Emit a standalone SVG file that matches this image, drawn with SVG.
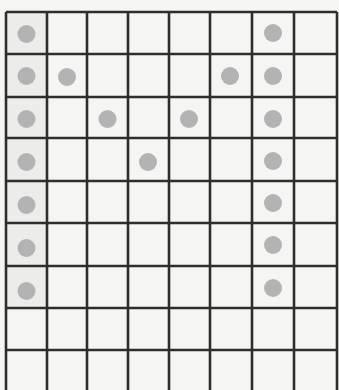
<svg xmlns="http://www.w3.org/2000/svg" width="339" height="390" viewBox="0 0 339 390">
  <style>
    .grid line { stroke: #2e2e2e; stroke-width: 2.6; }
    .dot { fill: #b3b3b3; }
  </style>
  <rect x="0" y="0" width="339" height="390" fill="#f5f5f3"/>
  <rect x="6" y="12" width="41" height="296" fill="#ececea"/>
  <g id="dots">
    <circle class="dot" cx="26.5" cy="34" r="9"/>
    <circle class="dot" cx="273" cy="33" r="9"/>
    <circle class="dot" cx="26.5" cy="76" r="9"/>
    <circle class="dot" cx="67" cy="77" r="9"/>
    <circle class="dot" cx="230" cy="76" r="9"/>
    <circle class="dot" cx="273" cy="76" r="9"/>
    <circle class="dot" cx="26.5" cy="119" r="9"/>
    <circle class="dot" cx="107.5" cy="119" r="9"/>
    <circle class="dot" cx="189" cy="119" r="9"/>
    <circle class="dot" cx="273" cy="119" r="9"/>
    <circle class="dot" cx="26.5" cy="162" r="9"/>
    <circle class="dot" cx="148" cy="162" r="9"/>
    <circle class="dot" cx="273" cy="161" r="9"/>
    <circle class="dot" cx="26.5" cy="205" r="9"/>
    <circle class="dot" cx="273" cy="203" r="9"/>
    <circle class="dot" cx="26.5" cy="248" r="9"/>
    <circle class="dot" cx="273" cy="245" r="9"/>
    <circle class="dot" cx="26.5" cy="291" r="9"/>
    <circle class="dot" cx="273" cy="288" r="9"/>
  </g>
  <g id="grid" class="grid">
    <line x1="6" y1="12" x2="6" y2="390"/>
    <line x1="47" y1="12" x2="47" y2="390"/>
    <line x1="87" y1="12" x2="87" y2="390"/>
    <line x1="128" y1="12" x2="128" y2="390"/>
    <line x1="169" y1="12" x2="169" y2="390"/>
    <line x1="210" y1="12" x2="210" y2="390"/>
    <line x1="252" y1="12" x2="252" y2="390"/>
    <line x1="294" y1="12" x2="294" y2="390"/>
    <line x1="337" y1="12" x2="337" y2="390"/>
    <line x1="6" y1="12" x2="337" y2="12"/>
    <line x1="6" y1="54" x2="337" y2="54"/>
    <line x1="6" y1="97" x2="337" y2="97"/>
    <line x1="6" y1="138" x2="337" y2="138"/>
    <line x1="6" y1="181" x2="337" y2="181"/>
    <line x1="6" y1="223" x2="337" y2="223"/>
    <line x1="6" y1="266" x2="337" y2="266"/>
    <line x1="6" y1="308" x2="337" y2="308"/>
    <line x1="6" y1="350" x2="337" y2="350"/>
  </g>
</svg>
